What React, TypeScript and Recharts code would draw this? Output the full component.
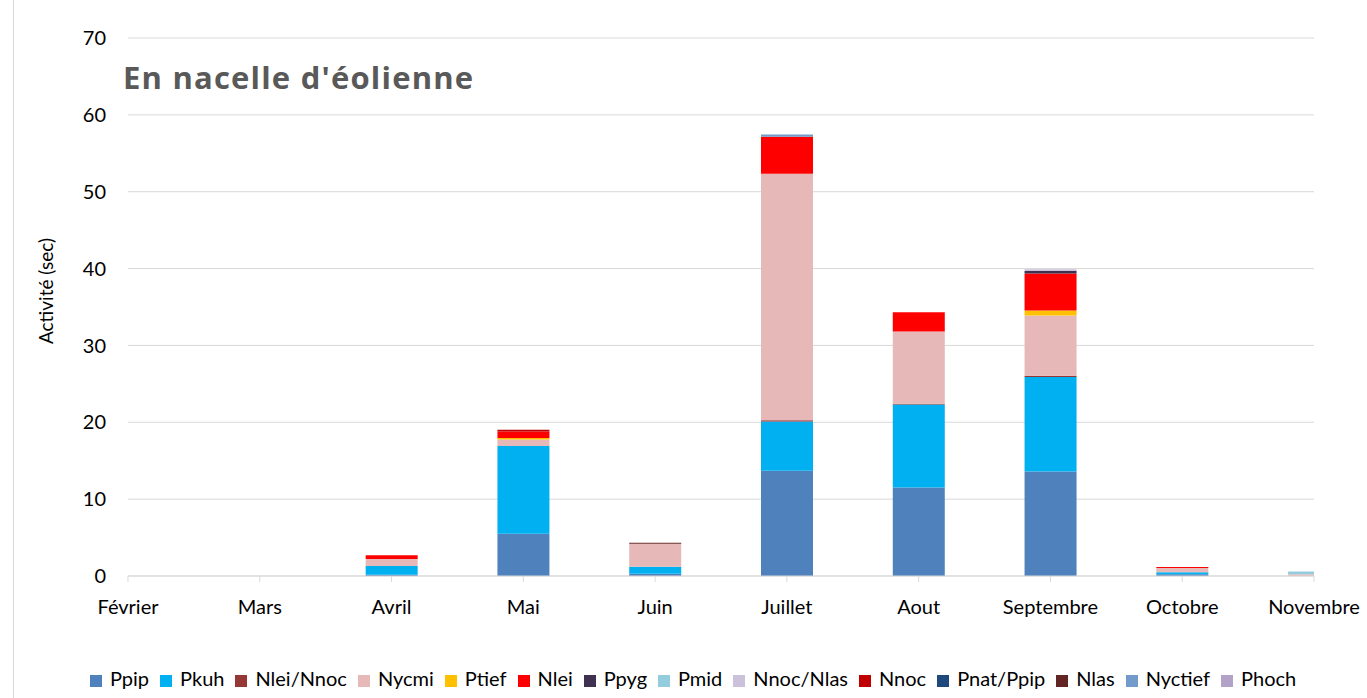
import { BarChart, Bar, XAxis, YAxis, CartesianGrid, Legend } from "recharts"

const months = ["Février", "Mars", "Avril", "Mai", "Juin", "Juillet", "Aout", "Septembre", "Octobre", "Novembre"]

const ppip = [0, 0, 0.15, 5.5, 0.3, 13.7, 11.5, 13.6, 0.22, 0]
const pkuh = [0, 0, 1.15, 11.4, 0.9, 6.4, 10.8, 12.3, 0.26, 0]
const nleiNnoc = [0, 0, 0, 0, 0, 0.15, 0.12, 0.15, 0, 0]
const nycmi = [0, 0, 0.9, 0.86, 3.0, 32.1, 9.4, 7.85, 0.55, 0.22]
const ptief = [0, 0, 0, 0.18, 0, 0, 0, 0.65, 0, 0]
const nlei = [0, 0, 0.5, 0.86, 0, 4.8, 2.5, 4.8, 0.15, 0]
const ppyg = [0, 0, 0, 0, 0, 0, 0, 0.34, 0, 0]
const pmid = [0, 0, 0, 0, 0, 0, 0, 0, 0, 0.35]
const nnocNlas = [0, 0, 0, 0, 0, 0, 0, 0.23, 0, 0]
const nnoc = [0, 0, 0, 0.22, 0, 0, 0, 0, 0, 0]
const pnatPpip = [0, 0, 0, 0, 0, 0, 0, 0, 0, 0]
const nlas = [0, 0, 0, 0, 0.12, 0, 0, 0, 0, 0]
const nyctief = [0, 0, 0, 0, 0, 0.3, 0, 0, 0, 0]
const phoch = [0, 0, 0, 0, 0, 0, 0, 0, 0, 0]

const yTicks = [0, 10, 20, 30, 40, 50, 60, 70]

const series = [
  { name: "Ppip", values: ppip, color: "#4f81bd" },
  { name: "Pkuh", values: pkuh, color: "#00b0f0" },
  { name: "Nlei/Nnoc", values: nleiNnoc, color: "#953735" },
  { name: "Nycmi", values: nycmi, color: "#e6b9b8" },
  { name: "Ptief", values: ptief, color: "#ffc000" },
  { name: "Nlei", values: nlei, color: "#ff0000" },
  { name: "Ppyg", values: ppyg, color: "#403151" },
  { name: "Pmid", values: pmid, color: "#93cddd" },
  { name: "Nnoc/Nlas", values: nnocNlas, color: "#ccc1da" },
  { name: "Nnoc", values: nnoc, color: "#c00000" },
  { name: "Pnat/Ppip", values: pnatPpip, color: "#1f497d" },
  { name: "Nlas", values: nlas, color: "#632523" },
  { name: "Nyctief", values: nyctief, color: "#729aca" },
  { name: "Phoch", values: phoch, color: "#b3a2c7" },
]
const seriesNames = series.map(s => s.name)

const data = months.map((m, i) => {
  const row: any = { idx: i, month: m }
  series.forEach(s => { row[s.name] = s.values[i] })
  return row
})

const font = "Lato, 'Open Sans', sans-serif"

export default function App() {
  return (
    <div style={{ position: "absolute", left: 0, top: 0, width: 1367, height: 698, background: "#fff", fontFamily: font }}>
      <div style={{ position: "absolute", left: 13, top: 0, width: 1, height: 698, background: "#d9d9d9" }} />
      <BarChart
        width={1367}
        height={698}
        data={data}
        margin={{ top: 38, right: 53, left: 0, bottom: 38 }}
      >
        <CartesianGrid vertical={false} stroke="#d9d9d9" />
        <XAxis
          dataKey="idx"
          type="number"
          domain={[0, 9]}
          ticks={[0, 1, 2, 3, 4, 5, 6, 7, 8, 9]}
          tickFormatter={(i) => months[i]}
          allowDataOverflow
          interval={0}
          height={60}
          stroke="#d9d9d9"
          tickSize={6}
          tickMargin={18}
          tick={{ fill: "#000", fontSize: 20, fontFamily: font }}
        />
        <YAxis
          domain={[0, 70]}
          ticks={yTicks}
          width={128}
          axisLine={false}
          tickLine={false}
          tickMargin={16}
          tick={{ fill: "#000", fontSize: 20, fontFamily: font }}
          label={{
            content: () => (
              <text x={45} y={291} transform="rotate(-90 45 291)" textAnchor="middle" dominantBaseline="central" fontSize={19} fontFamily={font} fill="#000">
                Activité (sec)
              </text>
            ),
          }}
        />
        <Legend
          verticalAlign="bottom"
          align="center"
          iconType="square"
          iconSize={12}
          itemSorter={(item: any) => seriesNames.indexOf(item.value)}
          wrapperStyle={{ fontSize: 20, fontFamily: font, color: "#000", left: 90, bottom: 8, width: "auto" }}
          formatter={(v) => <span style={{ color: "#000", marginLeft: 4, marginRight: 1 }}>{v}</span>}
        />
        {series.map(s => (
          <Bar key={s.name} dataKey={s.name} stackId="a" fill={s.color} barSize={52} isAnimationActive={false} />
        ))}
      </BarChart>
      <div style={{ position: "absolute", left: 123, top: 57, fontSize: 31, fontWeight: 700, color: "#595959", fontFamily: "'Open Sans', sans-serif", lineHeight: "40px", letterSpacing: 1.2 }}>
        En nacelle d'éolienne
      </div>
    </div>
  )
}
